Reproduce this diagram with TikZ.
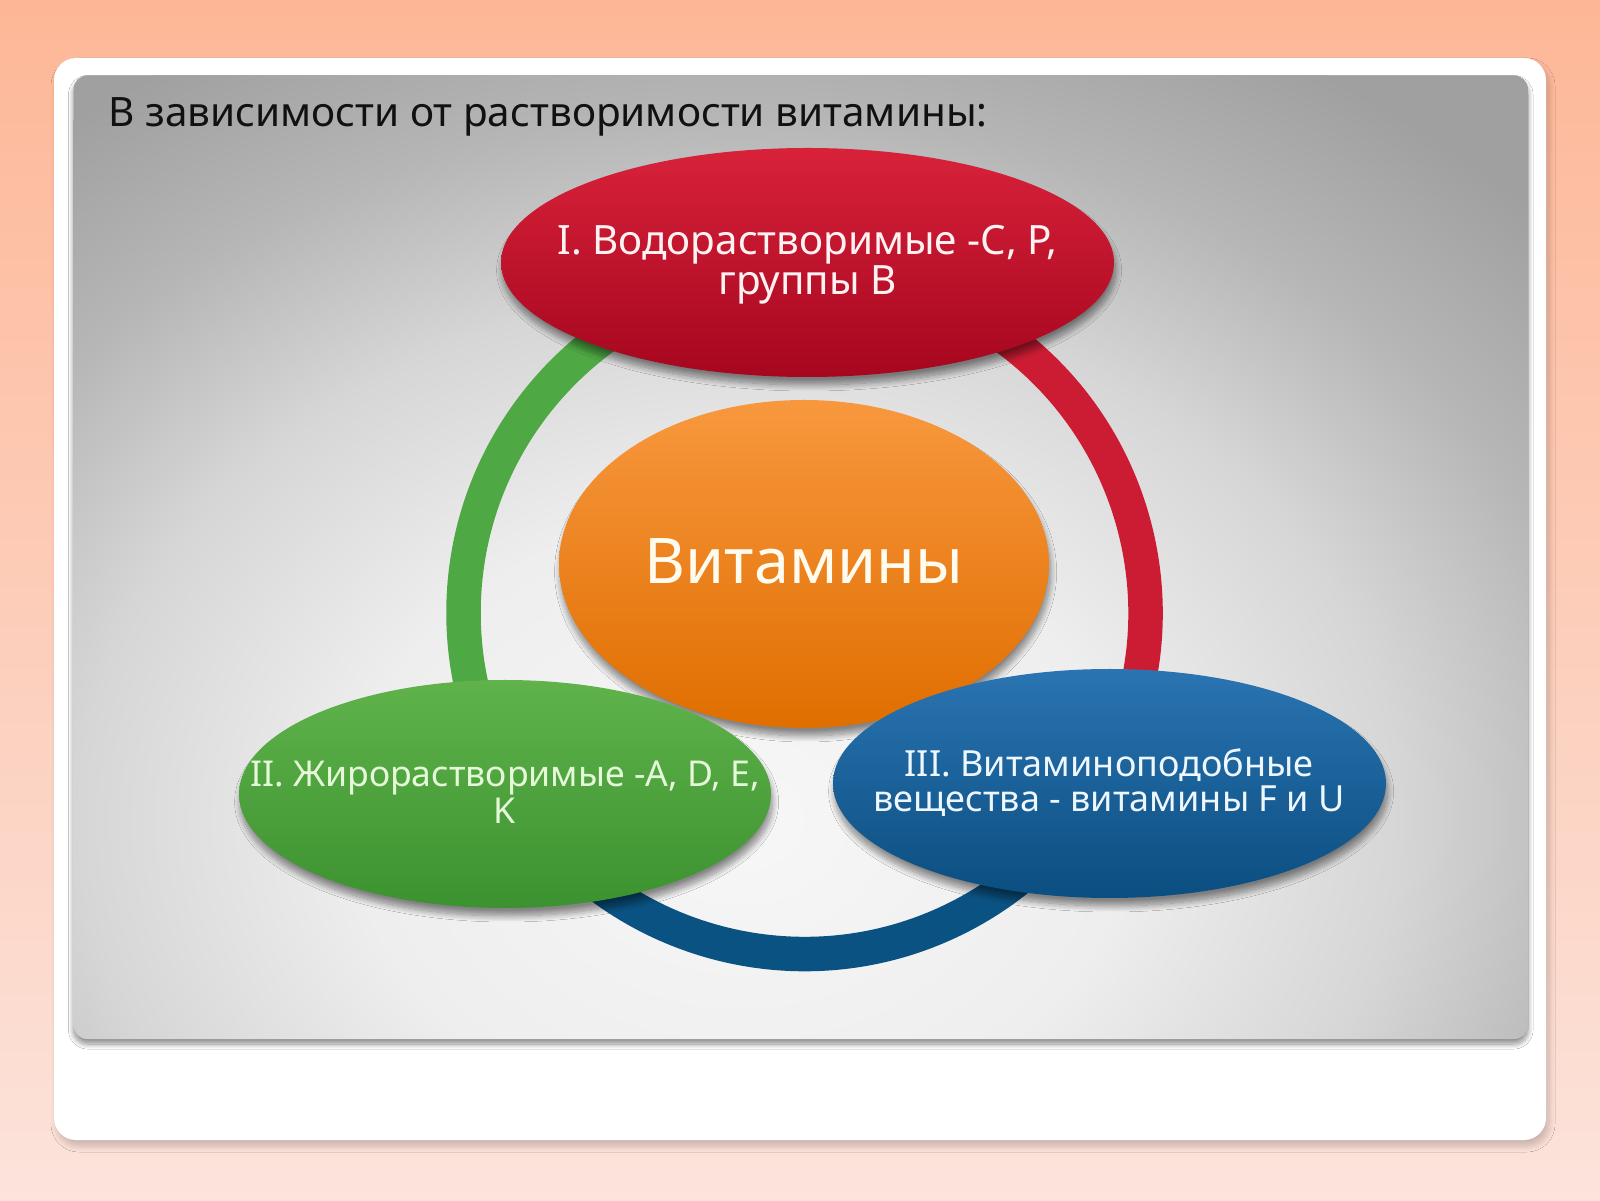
\documentclass[tikz,border=0pt]{standalone}
\usepackage{fontspec}
\setmainfont{Noto Sans}
\usetikzlibrary{shapes.geometric,shadows.blur,calc}
\definecolor{bgtop}{HTML}{FDB797}
\definecolor{bgbot}{HTML}{FCE3DB}
\definecolor{pan0}{HTML}{F7F7F7}
\definecolor{pan1}{HTML}{EEEEEE}
\definecolor{pan2}{HTML}{D6D6D6}
\definecolor{pan3}{HTML}{B6B6B6}
\definecolor{pan4}{HTML}{A0A0A0}
\definecolor{redtop}{HTML}{D8223A}
\definecolor{redbot}{HTML}{A6061F}
\definecolor{redring}{HTML}{CC1C34}
\definecolor{grntop}{HTML}{60B34B}
\definecolor{grnbot}{HTML}{3C9230}
\definecolor{grnring}{HTML}{4EA843}
\definecolor{blutop}{HTML}{2A74B2}
\definecolor{blubot}{HTML}{0B4E80}
\definecolor{bluring}{HTML}{0A5282}
\definecolor{orgtop}{HTML}{F8983E}
\definecolor{orgbot}{HTML}{E06E00}
\definecolor{titlecol}{HTML}{111111}
\definecolor{redtxtcol}{HTML}{FFF2F2}
\definecolor{grntxtcol}{HTML}{E6F8DA}
\definecolor{blutxtcol}{HTML}{EEF6FF}
\definecolor{orgtxtcol}{HTML}{FFFBEE}
\pgfdeclareradialshading{panelshade}{\pgfpoint{0bp}{0bp}}{color(0bp)=(pan0); color(8.75bp)=(pan1); color(15bp)=(pan2); color(20bp)=(pan3); color(25bp)=(pan4); color(50bp)=(pan4)}
\tikzset{
  bubble/.style={ellipse, inner sep=0pt, draw=none,
    blur shadow={shadow xshift=0.8pt, shadow yshift=-4pt, shadow blur radius=3pt, shadow blur steps=12, shadow opacity=45}},
  bubtxt/.style={inner sep=0pt, anchor=base, align=center},
  ringarc/.style={line width=17.25pt, line cap=butt},
}
\begin{document}
\begin{tikzpicture}[x=0.5pt,y=0.5pt]
\useasboundingbox (0,0) rectangle (1600,1200);
\shade[top color=bgtop, bottom color=bgbot] (0,0) rectangle (1600,1200);
% white card
\fill[white, rounded corners=11pt,
  blur shadow={shadow xshift=1.5pt, shadow yshift=-3pt, shadow blur radius=3pt, shadow blur steps=10, shadow opacity=20}]
  (54,60) rectangle (1546,1142);
% grey panel
\fill[pan4, rounded corners=7pt,
  blur shadow={shadow xshift=0pt, shadow yshift=-2.5pt, shadow blur radius=2.5pt, shadow blur steps=10, shadow opacity=45}]
  (73.5,161) rectangle (1528,1124.5);
\begin{scope}
  \clip[rounded corners=7pt] (73.5,161) rectangle (1528,1124.5);
  \shade[shading=panelshade] (740,380) ellipse (1100 and 880);
\end{scope}
% title
\node[inner sep=0pt, anchor=base west, text=titlecol, font=\fontsize{20.25}{24}\selectfont]
  (title) at (108,1073.3) {В зависимости от растворимости витамины:};
% ring
\coordinate (ringc) at (804.5,587);
\coordinate (p90) at ($(ringc)+(90:341)$);
\coordinate (p210) at ($(ringc)+(210:341)$);
\coordinate (p330) at ($(ringc)+(330:341)$);
\draw[ringarc, grnring] (p90) arc (90:210:341);
\draw[ringarc, bluring] (p210) arc (210:330:341);
\draw[ringarc, redring] (p330) arc (-30:90:341);
% centre
\node[bubble, top color=orgtop, bottom color=orgbot, minimum width=245pt, minimum height=164pt]
  (center) at (804,636) {};
\node[bubtxt, text=orgtxtcol, font=\fontsize{31.5}{38}\selectfont] (centertxt) at (804,616) {Витамины};
% red
\node[bubble, top color=redtop, bottom color=redbot, minimum width=306.5pt, minimum height=114.5pt]
  (red) at (807.5,937.5) {};
\node[bubtxt, text=redtxtcol, font=\fontsize{20.2}{19}\selectfont] (redtxt) at (807.5,905)
  {I. Водорастворимые -C, P,\\группы B};
% green
\node[bubble, top color=grntop, bottom color=grnbot, minimum width=266pt, minimum height=114pt]
  (green) at (505,406) {};
\node[bubtxt, text=grntxtcol, font=\fontsize{17.8}{18.4}\selectfont] (greentxt) at (505,376.7)
  {II. Жирорастворимые -A, D, E,\\K};
% blue
\node[bubble, top color=blutop, bottom color=blubot, minimum width=276.5pt, minimum height=114.5pt]
  (blue) at (1109.5,416.5) {};
\node[bubtxt, text=blutxtcol, font=\fontsize{18}{17.5}\selectfont] (bluetxt) at (1109,388.3)
  {III. Витаминоподобные\\вещества - витамины F и U};
\end{tikzpicture}
\end{document}
